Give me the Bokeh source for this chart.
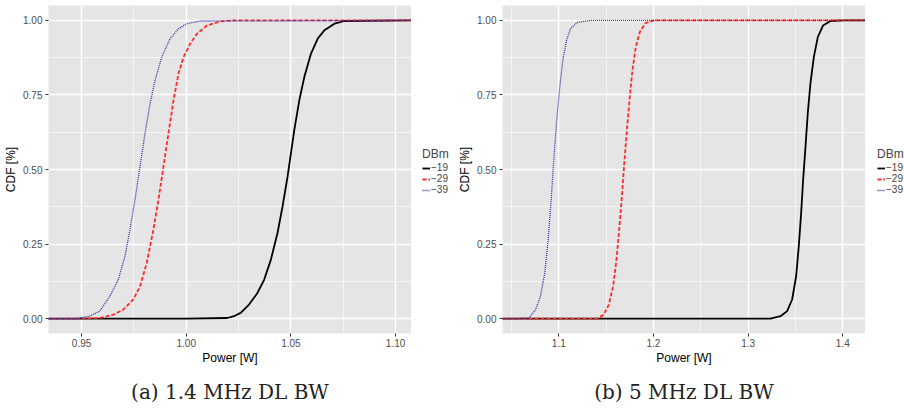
from bokeh.plotting import figure
from bokeh.layouts import row, column
from bokeh.models import Range1d, FixedTicker, Legend, LegendItem, Label, NumeralTickFormatter
from bokeh.embed import file_html
from bokeh.resources import INLINE

# ---------------- data ----------------
series_labels = ["\u221219", "\u221229", "\u221239"]
series_colors = ["#000000", "#FF2A2A", "#2E2EA8"]

# (a) 1.4 MHz DL BW
pow_a_19 = [0.930, 1.000, 1.0196, 1.0228, 1.0260, 1.0300, 1.0340, 1.0372, 1.0404, 1.0436, 1.0460, 1.0484,
            1.0500, 1.0516, 1.0540, 1.0564, 1.0596, 1.0628, 1.0660, 1.0708, 1.0756, 1.110]
cdf_a_19 = [0.0, 0.0, 0.002, 0.008, 0.019, 0.047, 0.086, 0.130, 0.197, 0.287, 0.376, 0.476,
            0.554, 0.632, 0.732, 0.810, 0.889, 0.939, 0.967, 0.989, 0.998, 1.0]
pow_a_29 = [0.930, 0.9506, 0.9587, 0.9651, 0.9699, 0.9747, 0.9779, 0.9811, 0.9843, 0.9867, 0.9891, 0.9915,
            0.9939, 0.9963, 0.9987, 1.0019, 1.0051, 1.0099, 1.0163, 1.0228, 1.110]
cdf_a_29 = [0.0, 0.0, 0.002, 0.013, 0.030, 0.064, 0.108, 0.186, 0.298, 0.398, 0.509, 0.621,
            0.732, 0.822, 0.877, 0.922, 0.955, 0.983, 0.997, 1.0, 1.0]
pow_a_39 = [0.930, 0.9479, 0.9538, 0.9587, 0.9635, 0.9675, 0.9707, 0.9731, 0.9755, 0.9779, 0.9803, 0.9827,
            0.9851, 0.9883, 0.9923, 0.9963, 1.0003, 1.0067, 1.110]
cdf_a_39 = [0.0, 0.0, 0.008, 0.025, 0.075, 0.130, 0.208, 0.298, 0.398, 0.509, 0.621, 0.721,
            0.799, 0.877, 0.939, 0.972, 0.989, 0.998, 1.0]

# (b) 5 MHz DL BW
pow_b_19 = [1.030, 1.3236, 1.3342, 1.3412, 1.3465, 1.3507, 1.3535, 1.3560, 1.3581, 1.3606, 1.3630, 1.3658,
            1.3694, 1.3736, 1.3792, 1.3870, 1.4011, 1.430]
cdf_b_19 = [0.0, 0.0, 0.008, 0.025, 0.064, 0.142, 0.242, 0.353, 0.465, 0.576, 0.688, 0.788,
            0.877, 0.944, 0.983, 0.998, 1.0, 1.0]
pow_b_29 = [1.030, 1.1405, 1.1475, 1.1528, 1.1574, 1.1609, 1.1641, 1.1669, 1.1694, 1.1722, 1.1750, 1.1778,
            1.1813, 1.1856, 1.1915, 1.2004, 1.430]
cdf_b_29 = [0.0, 0.0, 0.013, 0.047, 0.108, 0.197, 0.309, 0.420, 0.532, 0.643, 0.744, 0.833,
            0.911, 0.961, 0.991, 1.0, 1.0]
pow_b_39 = [1.030, 1.0560, 1.0683, 1.0754, 1.0806, 1.0852, 1.0887, 1.0919, 1.0947, 1.0975, 1.1007, 1.1042,
            1.1081, 1.1123, 1.1194, 1.1335, 1.430]
cdf_b_39 = [0.0, 0.0, 0.002, 0.030, 0.075, 0.153, 0.264, 0.398, 0.532, 0.654, 0.766, 0.866,
            0.933, 0.972, 0.993, 1.0, 1.0]

y_ticks = [0.0, 0.25, 0.5, 0.75, 1.0]
y_minor = [0.125, 0.375, 0.625, 0.875]
x_ticks_a = [0.95, 1.00, 1.05, 1.10]
x_minor_a = [0.925, 0.975, 1.025, 1.075]
x_ticks_b = [1.1, 1.2, 1.3, 1.4]
x_minor_b = [1.05, 1.15, 1.25, 1.35]

captions = ["(a) 1.4 MHz DL BW", "(b) 5 MHz DL BW"]

SANS = "Liberation Sans"
SERIF = "DejaVu Serif"
STYLES = [dict(line_width=1.8), dict(line_width=1.8, line_dash="4 2"), dict(line_width=1.3, line_dash="1 1")]
PANEL_H = 367
CAP_H = 410 - PANEL_H


def make_panel(left, xr, xt, xm, xfmt, data):
    p = figure(width=left + 363, height=PANEL_H, output_backend="svg", toolbar_location=None,
               x_range=Range1d(*xr), y_range=Range1d(-0.05, 1.05),
               min_border_left=left, min_border_right=0,
               min_border_top=5, min_border_bottom=32)
    p.background_fill_color = "#E5E5E5"
    p.border_fill_color = "white"
    p.outline_line_color = None

    p.xaxis.ticker = FixedTicker(ticks=xt, minor_ticks=xm)
    p.yaxis.ticker = FixedTicker(ticks=y_ticks, minor_ticks=y_minor)
    p.xaxis.formatter = NumeralTickFormatter(format=xfmt)
    p.yaxis.formatter = NumeralTickFormatter(format="0.00")

    for ax in (p.xaxis[0], p.yaxis[0]):
        ax.axis_line_color = None
        ax.major_tick_line_color = "#333333"
        ax.major_tick_in = 0
        ax.major_tick_out = 3
        ax.minor_tick_line_color = None
        ax.major_label_text_font = SANS
        ax.major_label_text_font_size = "10px"
        ax.major_label_text_color = "#4D4D4D"
        ax.axis_label_text_font = SANS
        ax.axis_label_text_font_size = "12px"
        ax.axis_label_text_font_style = "normal"
        ax.axis_label_text_color = "black"
    p.xaxis.major_label_standoff = 1
    p.xaxis.axis_label_standoff = 1
    p.yaxis.major_label_standoff = 2
    p.yaxis.axis_label_standoff = 2
    p.xaxis.axis_label = "Power [W]"
    p.yaxis.axis_label = "CDF [%]"

    for g in (p.xgrid[0], p.ygrid[0]):
        g.grid_line_color = "white"
        g.grid_line_width = 1.4
        g.minor_grid_line_color = "white"
        g.minor_grid_line_width = 0.6

    for (xs, ys), col, st in zip(data, series_colors, STYLES):
        p.line(xs, ys, line_color=col, **st)
    return p


def blank(width, height):
    q = figure(width=width, height=height, output_backend="svg", toolbar_location=None,
               x_axis_type=None, y_axis_type=None, min_border=0,
               x_range=Range1d(0, 1), y_range=Range1d(0, 1))
    q.outline_line_color = None
    q.background_fill_color = "white"
    q.border_fill_color = "white"
    q.xgrid.visible = False
    q.ygrid.visible = False
    return q


def make_legend(width, x_off):
    q = blank(width, PANEL_H)
    # off-range placeholder renderers that only supply the legend key styles
    rs = [q.line([-10, -9], [-10, -9], line_color=col, **st) for col, st in zip(series_colors, STYLES)]
    legend = Legend(items=[LegendItem(label=lab, renderers=[r]) for lab, r in zip(series_labels, rs)],
                    location=(x_off, 138), orientation="vertical")
    legend.title = "DBm"
    legend.title_text_font = SANS
    legend.title_text_font_size = "12px"
    legend.title_text_font_style = "normal"
    legend.title_standoff = 1
    legend.label_text_font = SANS
    legend.label_text_font_size = "10px"
    legend.glyph_width = 8
    legend.glyph_height = 10
    legend.label_height = 10
    legend.label_standoff = 1
    legend.spacing = 0
    legend.padding = 0
    legend.margin = 0
    legend.background_fill_alpha = 0
    legend.border_line_color = None
    q.add_layout(legend, "center")
    return q


def make_caption(width, cx, text):
    q = blank(width, CAP_H)
    q.add_layout(Label(x=cx, y=CAP_H - 24, x_units="screen", y_units="screen", text=text,
                       text_align="center", text_baseline="middle", text_font=SERIF,
                       text_font_size="20px", text_color="#222222"))
    return q


p1 = make_panel(48, (0.9342, 1.1076), x_ticks_a, x_minor_a, "0.00",
                [(pow_a_19, cdf_a_19), (pow_a_29, cdf_a_29), (pow_a_39, cdf_a_39)])
l1 = make_legend(39, 11)
p2 = make_panel(52, (1.0405, 1.424), x_ticks_b, x_minor_b, "0.0",
                [(pow_b_19, cdf_b_19), (pow_b_29, cdf_b_29), (pow_b_39, cdf_b_39)])
l2 = make_legend(39, 12)
c1 = make_caption(450, 229.5, captions[0])
c2 = make_caption(454, 233.5, captions[1])

layout = column(row(p1, l1, p2, l2), row(c1, c2))
open("out.html", "w").write(file_html(layout, INLINE))
